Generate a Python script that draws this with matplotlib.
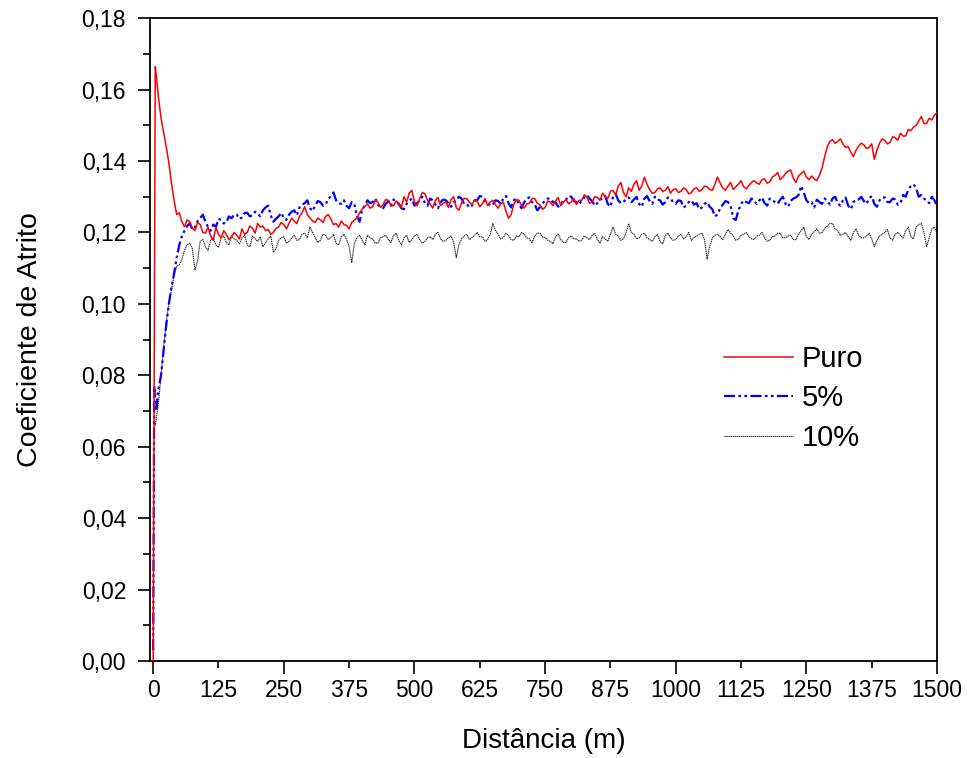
import numpy as np
import matplotlib
matplotlib.use("Agg")
import matplotlib.pyplot as plt
from matplotlib.ticker import MultipleLocator, FuncFormatter

plt.rcParams['font.family'] = ['Liberation Sans', 'DejaVu Sans']

# Sliding distance (m): dense start-up points, then every 5 m
dist_inicio = [0, 2, 4, 6, 8, 10, 15, 20, 25, 30, 35, 40, 45, 50, 55]
dist_regime = list(range(60, 1501, 5))
distancia = np.array(dist_inicio + dist_regime, dtype=float)

puro = [
    0.0000, 0.0800, 0.1664, 0.1640, 0.1610, 0.1580, 0.1520, 0.1480, 0.1440, 0.1395, 0.1338, 0.1290, 0.1250, 0.1255, 0.1230,
    0.1216, 0.1235, 0.1230, 0.1212, 0.1205, 0.1228, 0.1222, 0.1200, 0.1198, 0.1215,   # 60-105
    0.1190, 0.1178, 0.1215, 0.1195, 0.1185, 0.1205, 0.1195, 0.1180, 0.1188, 0.1200,   # 110-155
    0.1192, 0.1182, 0.1210, 0.1195, 0.1200, 0.1218, 0.1212, 0.1198, 0.1225, 0.1215,   # 160-205
    0.1218, 0.1205, 0.1208, 0.1195, 0.1200, 0.1212, 0.1215, 0.1228, 0.1222, 0.1210,   # 210-255
    0.1225, 0.1240, 0.1232, 0.1225, 0.1245, 0.1255, 0.1272, 0.1250, 0.1240, 0.1232,   # 260-305
    0.1228, 0.1240, 0.1235, 0.1228, 0.1245, 0.1250, 0.1238, 0.1222, 0.1225, 0.1215,   # 310-355
    0.1232, 0.1222, 0.1220, 0.1210, 0.1228, 0.1235, 0.1240, 0.1255, 0.1265, 0.1272,   # 360-405
    0.1280, 0.1268, 0.1272, 0.1290, 0.1285, 0.1270, 0.1278, 0.1292, 0.1290, 0.1275,   # 410-455
    0.1275, 0.1288, 0.1282, 0.1270, 0.1300, 0.1285, 0.1310, 0.1318, 0.1285, 0.1275,   # 460-505
    0.1295, 0.1312, 0.1308, 0.1290, 0.1280, 0.1268, 0.1290, 0.1298, 0.1275, 0.1282,   # 510-555
    0.1285, 0.1270, 0.1292, 0.1300, 0.1270, 0.1262, 0.1282, 0.1295, 0.1295, 0.1285,   # 560-605
    0.1278, 0.1290, 0.1288, 0.1272, 0.1280, 0.1295, 0.1275, 0.1285, 0.1290, 0.1278,   # 610-655
    0.1268, 0.1280, 0.1285, 0.1260, 0.1240, 0.1250, 0.1278, 0.1292, 0.1290, 0.1275,   # 660-705
    0.1268, 0.1280, 0.1282, 0.1295, 0.1295, 0.1282, 0.1278, 0.1265, 0.1270, 0.1288,   # 710-755
    0.1285, 0.1275, 0.1288, 0.1298, 0.1275, 0.1285, 0.1292, 0.1280, 0.1285, 0.1295,   # 760-805
    0.1278, 0.1290, 0.1290, 0.1305, 0.1300, 0.1282, 0.1285, 0.1300, 0.1298, 0.1290,   # 810-855
    0.1310, 0.1300, 0.1295, 0.1315, 0.1318, 0.1305, 0.1330, 0.1340, 0.1312, 0.1300,   # 860-905
    0.1325, 0.1315, 0.1335, 0.1345, 0.1318, 0.1330, 0.1355, 0.1335, 0.1320, 0.1310,   # 910-955
    0.1312, 0.1322, 0.1325, 0.1315, 0.1318, 0.1328, 0.1310, 0.1320, 0.1322, 0.1312,   # 960-1005
    0.1315, 0.1325, 0.1320, 0.1308, 0.1312, 0.1322, 0.1325, 0.1315, 0.1320, 0.1330,   # 1010-1055
    0.1328, 0.1320, 0.1318, 0.1335, 0.1355, 0.1338, 0.1325, 0.1318, 0.1330, 0.1340,   # 1060-1105
    0.1320, 0.1328, 0.1335, 0.1345, 0.1328, 0.1322, 0.1332, 0.1340, 0.1345, 0.1338,   # 1110-1155
    0.1335, 0.1348, 0.1350, 0.1338, 0.1342, 0.1355, 0.1360, 0.1368, 0.1348, 0.1355,   # 1160-1205
    0.1365, 0.1372, 0.1375, 0.1352, 0.1340, 0.1358, 0.1365, 0.1372, 0.1355, 0.1348,   # 1210-1255
    0.1358, 0.1350, 0.1345, 0.1360, 0.1380, 0.1412, 0.1440, 0.1455, 0.1460, 0.1450,   # 1260-1305
    0.1455, 0.1462, 0.1448, 0.1438, 0.1440, 0.1425, 0.1412, 0.1430, 0.1442, 0.1450,   # 1310-1355
    0.1445, 0.1435, 0.1438, 0.1448, 0.1405, 0.1430, 0.1450, 0.1462, 0.1458, 0.1448,   # 1360-1405
    0.1452, 0.1468, 0.1465, 0.1458, 0.1478, 0.1470, 0.1470, 0.1488, 0.1485, 0.1495,   # 1410-1455
    0.1500, 0.1512, 0.1525, 0.1505, 0.1505, 0.1520, 0.1515, 0.1528, 0.1535,           # 1460-1500
]

cinco = [
    0.0030, 0.0770, 0.0720, 0.0700, 0.0740, 0.0760, 0.0800, 0.0870, 0.0940, 0.1000, 0.1045, 0.1085, 0.1130, 0.1165, 0.1190,
    0.1205, 0.1218, 0.1225, 0.1208, 0.1215, 0.1232, 0.1240, 0.1250, 0.1230, 0.1215,   # 60-105
    0.1205, 0.1222, 0.1215, 0.1238, 0.1235, 0.1225, 0.1228, 0.1245, 0.1240, 0.1250,   # 110-155
    0.1250, 0.1238, 0.1242, 0.1255, 0.1255, 0.1245, 0.1248, 0.1258, 0.1252, 0.1245,   # 160-205
    0.1262, 0.1270, 0.1275, 0.1248, 0.1230, 0.1238, 0.1245, 0.1255, 0.1240, 0.1235,   # 210-255
    0.1250, 0.1258, 0.1262, 0.1248, 0.1270, 0.1278, 0.1282, 0.1290, 0.1268, 0.1260,   # 260-305
    0.1275, 0.1288, 0.1285, 0.1275, 0.1278, 0.1295, 0.1300, 0.1312, 0.1290, 0.1282,   # 310-355
    0.1280, 0.1290, 0.1275, 0.1268, 0.1285, 0.1280, 0.1245, 0.1230, 0.1265, 0.1275,   # 360-405
    0.1290, 0.1282, 0.1285, 0.1295, 0.1278, 0.1270, 0.1268, 0.1280, 0.1288, 0.1275,   # 410-455
    0.1292, 0.1285, 0.1280, 0.1268, 0.1265, 0.1280, 0.1288, 0.1295, 0.1275, 0.1282,   # 460-505
    0.1290, 0.1300, 0.1282, 0.1275, 0.1295, 0.1290, 0.1278, 0.1268, 0.1285, 0.1292,   # 510-555
    0.1290, 0.1282, 0.1272, 0.1285, 0.1288, 0.1300, 0.1295, 0.1280, 0.1280, 0.1270,   # 560-605
    0.1275, 0.1290, 0.1290, 0.1302, 0.1300, 0.1288, 0.1285, 0.1275, 0.1278, 0.1290,   # 610-655
    0.1288, 0.1280, 0.1295, 0.1302, 0.1282, 0.1270, 0.1290, 0.1295, 0.1278, 0.1268,   # 660-705
    0.1285, 0.1295, 0.1298, 0.1285, 0.1280, 0.1262, 0.1270, 0.1282, 0.1288, 0.1295,   # 710-755
    0.1295, 0.1285, 0.1285, 0.1272, 0.1278, 0.1290, 0.1292, 0.1302, 0.1300, 0.1288,   # 760-805
    0.1285, 0.1278, 0.1290, 0.1298, 0.1305, 0.1295, 0.1288, 0.1275, 0.1282, 0.1292,   # 810-855
    0.1295, 0.1302, 0.1280, 0.1272, 0.1300, 0.1308, 0.1290, 0.1282, 0.1285, 0.1295,   # 860-905
    0.1298, 0.1285, 0.1292, 0.1300, 0.1280, 0.1272, 0.1295, 0.1302, 0.1288, 0.1280,   # 910-955
    0.1300, 0.1292, 0.1290, 0.1278, 0.1285, 0.1298, 0.1295, 0.1285, 0.1280, 0.1290,   # 960-1005
    0.1288, 0.1270, 0.1275, 0.1285, 0.1290, 0.1278, 0.1282, 0.1265, 0.1270, 0.1280,   # 1010-1055
    0.1285, 0.1272, 0.1265, 0.1245, 0.1250, 0.1268, 0.1278, 0.1288, 0.1285, 0.1275,   # 1060-1105
    0.1240, 0.1235, 0.1262, 0.1280, 0.1290, 0.1285, 0.1282, 0.1295, 0.1288, 0.1280,   # 1110-1155
    0.1290, 0.1298, 0.1282, 0.1275, 0.1295, 0.1290, 0.1285, 0.1280, 0.1292, 0.1300,   # 1160-1205
    0.1280, 0.1272, 0.1288, 0.1295, 0.1298, 0.1305, 0.1330, 0.1312, 0.1290, 0.1282,   # 1210-1255
    0.1285, 0.1270, 0.1292, 0.1285, 0.1280, 0.1295, 0.1288, 0.1278, 0.1295, 0.1300,   # 1260-1305
    0.1282, 0.1275, 0.1290, 0.1298, 0.1275, 0.1265, 0.1285, 0.1292, 0.1292, 0.1300,   # 1310-1355
    0.1288, 0.1280, 0.1295, 0.1302, 0.1280, 0.1272, 0.1290, 0.1298, 0.1298, 0.1285,   # 1360-1405
    0.1285, 0.1295, 0.1292, 0.1278, 0.1282, 0.1305, 0.1300, 0.1320, 0.1330, 0.1335,   # 1410-1455
    0.1325, 0.1300, 0.1305, 0.1295, 0.1290, 0.1282, 0.1300, 0.1290, 0.1275,           # 1460-1500
]

dez = [
    0.0670, 0.0670, 0.0660, 0.0680, 0.0700, 0.0720, 0.0800, 0.0880, 0.0950, 0.1000, 0.1040, 0.1080, 0.1105, 0.1110, 0.1125,
    0.1150, 0.1165, 0.1170, 0.1155, 0.1095, 0.1120, 0.1175, 0.1180, 0.1160, 0.1150,   # 60-105
    0.1178, 0.1185, 0.1165, 0.1158, 0.1185, 0.1190, 0.1172, 0.1165, 0.1190, 0.1182,   # 110-155
    0.1178, 0.1168, 0.1185, 0.1192, 0.1165, 0.1160, 0.1190, 0.1182, 0.1175, 0.1188,   # 160-205
    0.1160, 0.1170, 0.1182, 0.1190, 0.1145, 0.1155, 0.1178, 0.1185, 0.1188, 0.1170,   # 210-255
    0.1175, 0.1185, 0.1192, 0.1178, 0.1180, 0.1195, 0.1198, 0.1185, 0.1215, 0.1200,   # 260-305
    0.1185, 0.1172, 0.1178, 0.1195, 0.1192, 0.1180, 0.1185, 0.1195, 0.1170, 0.1165,   # 310-355
    0.1188, 0.1195, 0.1180, 0.1160, 0.1115, 0.1170, 0.1185, 0.1192, 0.1178, 0.1165,   # 360-405
    0.1192, 0.1185, 0.1182, 0.1170, 0.1170, 0.1185, 0.1188, 0.1192, 0.1180, 0.1172,   # 410-455
    0.1192, 0.1198, 0.1178, 0.1165, 0.1185, 0.1192, 0.1172, 0.1180, 0.1190, 0.1195,   # 460-505
    0.1180, 0.1170, 0.1175, 0.1185, 0.1188, 0.1180, 0.1195, 0.1200, 0.1182, 0.1175,   # 510-555
    0.1178, 0.1185, 0.1190, 0.1172, 0.1130, 0.1165, 0.1182, 0.1190, 0.1195, 0.1180,   # 560-605
    0.1185, 0.1192, 0.1200, 0.1188, 0.1188, 0.1175, 0.1180, 0.1195, 0.1225, 0.1205,   # 610-655
    0.1195, 0.1182, 0.1185, 0.1198, 0.1192, 0.1180, 0.1178, 0.1190, 0.1188, 0.1200,   # 660-705
    0.1195, 0.1185, 0.1182, 0.1170, 0.1190, 0.1198, 0.1198, 0.1188, 0.1185, 0.1178,   # 710-755
    0.1175, 0.1168, 0.1188, 0.1195, 0.1180, 0.1172, 0.1172, 0.1185, 0.1190, 0.1182,   # 760-805
    0.1182, 0.1175, 0.1178, 0.1190, 0.1185, 0.1180, 0.1192, 0.1198, 0.1180, 0.1170,   # 810-855
    0.1188, 0.1182, 0.1175, 0.1195, 0.1215, 0.1195, 0.1190, 0.1178, 0.1182, 0.1200,   # 860-905
    0.1225, 0.1200, 0.1195, 0.1182, 0.1185, 0.1195, 0.1198, 0.1185, 0.1180, 0.1175,   # 910-955
    0.1188, 0.1195, 0.1175, 0.1168, 0.1192, 0.1198, 0.1185, 0.1178, 0.1180, 0.1190,   # 960-1005
    0.1195, 0.1182, 0.1188, 0.1200, 0.1178, 0.1185, 0.1190, 0.1195, 0.1198, 0.1180,   # 1010-1055
    0.1125, 0.1160, 0.1185, 0.1192, 0.1195, 0.1188, 0.1180, 0.1195, 0.1208, 0.1198,   # 1060-1105
    0.1190, 0.1178, 0.1182, 0.1192, 0.1195, 0.1200, 0.1188, 0.1182, 0.1180, 0.1190,   # 1110-1155
    0.1192, 0.1200, 0.1185, 0.1175, 0.1178, 0.1188, 0.1190, 0.1198, 0.1198, 0.1185,   # 1160-1205
    0.1185, 0.1190, 0.1192, 0.1180, 0.1180, 0.1195, 0.1205, 0.1215, 0.1188, 0.1180,   # 1210-1255
    0.1195, 0.1202, 0.1210, 0.1198, 0.1200, 0.1212, 0.1218, 0.1225, 0.1225, 0.1210,   # 1260-1305
    0.1205, 0.1192, 0.1195, 0.1200, 0.1188, 0.1178, 0.1200, 0.1210, 0.1192, 0.1185,   # 1310-1355
    0.1185, 0.1190, 0.1198, 0.1182, 0.1160, 0.1178, 0.1190, 0.1195, 0.1200, 0.1208,   # 1360-1405
    0.1185, 0.1178, 0.1195, 0.1200, 0.1192, 0.1185, 0.1205, 0.1215, 0.1188, 0.1182,   # 1410-1455
    0.1215, 0.1222, 0.1225, 0.1200, 0.1160, 0.1185, 0.1210, 0.1215, 0.1198,           # 1460-1500
]

rotulos = ["Puro", "5%", "10%"]
x_ticks_maiores = [0, 250, 500, 750, 1000, 1250, 1500]
x_ticks_menores = [125, 375, 625, 875, 1125, 1375]

assert len(puro) == len(cinco) == len(dez) == len(distancia)

fig = plt.figure(figsize=(9.68, 7.58), dpi=100)
ax = fig.add_axes([0.155, 0.128, 0.813, 0.848])

ax.plot(distancia, puro, color="#ff0000", lw=1.1, label=rotulos[0], zorder=3)
ax.plot(distancia, cinco, color="#0000ff", lw=1.6, dashes=(5, 1.5, 1.2, 1.5, 1.2, 1.5),
        label=rotulos[1], zorder=2)
ax.plot(distancia, dez, color="#222222", lw=0.8, dashes=(1.2, 0.6), label=rotulos[2], zorder=1)

ax.set_xlim(-6, 1500)
ax.set_ylim(0, 0.18)

ax.xaxis.set_major_locator(plt.FixedLocator(x_ticks_maiores))
ax.xaxis.set_minor_locator(plt.FixedLocator(x_ticks_menores))
ax.xaxis.set_minor_formatter(FuncFormatter(lambda v, p: f"{v:.0f}"))
ax.yaxis.set_major_locator(MultipleLocator(0.02))
ax.yaxis.set_minor_locator(MultipleLocator(0.01))
ax.yaxis.set_major_formatter(FuncFormatter(lambda v, p: f"{v:.2f}".replace(".", ",")))

ax.tick_params(axis="both", which="major", direction="out", length=9, width=1.2,
               labelsize=16.5, pad=4)
ax.tick_params(axis="both", which="minor", direction="out", length=5, width=1.2,
               labelsize=16.5, pad=8)
ax.tick_params(axis="y", which="major", pad=8.3)
for s in ax.spines.values():
    s.set_linewidth(1.3)

ax.set_xlabel("Distância (m)", fontsize=20, labelpad=18.5)
ax.set_ylabel("Coeficiente de Atrito", fontsize=20.5, labelpad=28)

ax.legend(loc="upper left", bbox_to_anchor=(0.715, 0.51), frameon=False, fontsize=21,
          handlelength=2.35, handletextpad=0.3, labelspacing=0.4, borderaxespad=0)

fig.savefig("out.png", dpi=100)
